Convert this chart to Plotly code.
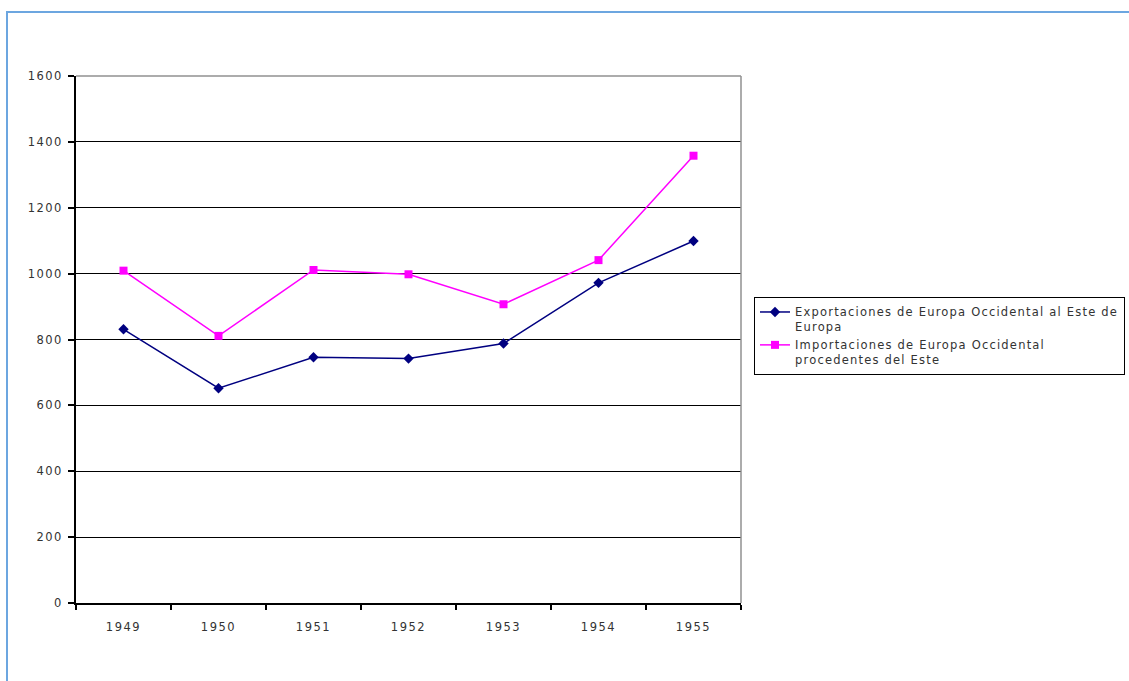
import plotly.graph_objects as go

# Years on the category axis
years = ["1949", "1950", "1951", "1952", "1953", "1954", "1955"]

# Trade flows between Western and Eastern Europe
exportaciones = [831, 652, 746, 742, 788, 972, 1099]
importaciones = [1009, 811, 1011, 998, 907, 1041, 1358]

name_exp = ["Exportaciones de Europa Occidental al Este de", "Europa"]
name_imp = ["Importaciones de Europa Occidental", "procedentes del Este"]

y_ticks = [0, 200, 400, 600, 800, 1000, 1200, 1400, 1600]

W, H = 1129, 681
L, R, T, B = 76, 741, 76, 603
font_family = "DejaVu Sans"


def spaced(text, ls=1.2):
    """Wrap text in a span with extra letter spacing."""
    return f'<span style="letter-spacing:{ls}px">{text}</span>'


def spaced_lines(lines, ls=1.2):
    return "<br>".join(spaced(t, ls) for t in lines)


fig = go.Figure()
fig.add_trace(go.Scatter(
    x=years, y=exportaciones, name=spaced_lines(name_exp), mode="lines+markers",
    line=dict(color="#000080", width=1.5),
    marker=dict(symbol="diamond", size=8, color="#000080"),
))
fig.add_trace(go.Scatter(
    x=years, y=importaciones, name=spaced_lines(name_imp), mode="lines+markers",
    line=dict(color="#FF00FF", width=1.5),
    marker=dict(symbol="square", size=8, color="#FF00FF"),
))

pw, ph = R - L, B - T

def px_x(p):
    return (p - L) / pw

def px_y(p):
    return (B - p) / ph

fig.update_layout(
    width=W, height=H,
    margin=dict(l=L, r=W - R, t=T, b=H - B, autoexpand=False),
    paper_bgcolor="white", plot_bgcolor="white",
    font=dict(family=font_family, size=11.5, color="#333333"),
    showlegend=True,
    legend=dict(
        x=px_x(754), y=px_y(297), xanchor="left", yanchor="top",
        bordercolor="black", borderwidth=1, bgcolor="white",
        valign="top", itemwidth=30,
        font=dict(family=font_family, size=11.5, color="#333333"),
    ),
    xaxis=dict(
        type="category", range=[-0.5, len(years) - 0.5],
        tickmode="array", tickvals=years,
        ticktext=[spaced(y, 1.5) for y in years],
        tickson="boundaries", ticks="outside", ticklen=5,
        tickcolor="black", tickwidth=1.5,
        showline=True, linecolor="black", linewidth=1.5,
        showgrid=False, zeroline=False, ticklabelstandoff=12,
    ),
    yaxis=dict(
        range=[0, 1600], tickvals=y_ticks,
        ticktext=[spaced(str(v), 1.5) for v in y_ticks],
        ticks="outside", ticklen=6,
        tickcolor="black", tickwidth=1.5,
        showline=True, linecolor="black", linewidth=1.5,
        showgrid=True, gridcolor="black", gridwidth=1.2, zeroline=False,
        ticklabelstandoff=3,
    ),
    shapes=[
        # plot-area border on the top and right
        dict(type="line", xref="paper", yref="paper", x0=0, x1=1, y0=1, y1=1,
             line=dict(color="#909090", width=1.5), layer="above"),
        dict(type="line", xref="paper", yref="paper", x0=1, x1=1, y0=0, y1=1,
             line=dict(color="#909090", width=1.5), layer="above"),
        # outer chart frame
        dict(type="rect", xref="paper", yref="paper",
             x0=px_x(7), x1=px_x(1300), y0=px_y(800), y1=px_y(12),
             line=dict(color="#6CA6E0", width=2), layer="above"),
    ],
)

fig.write_html("out.html")
